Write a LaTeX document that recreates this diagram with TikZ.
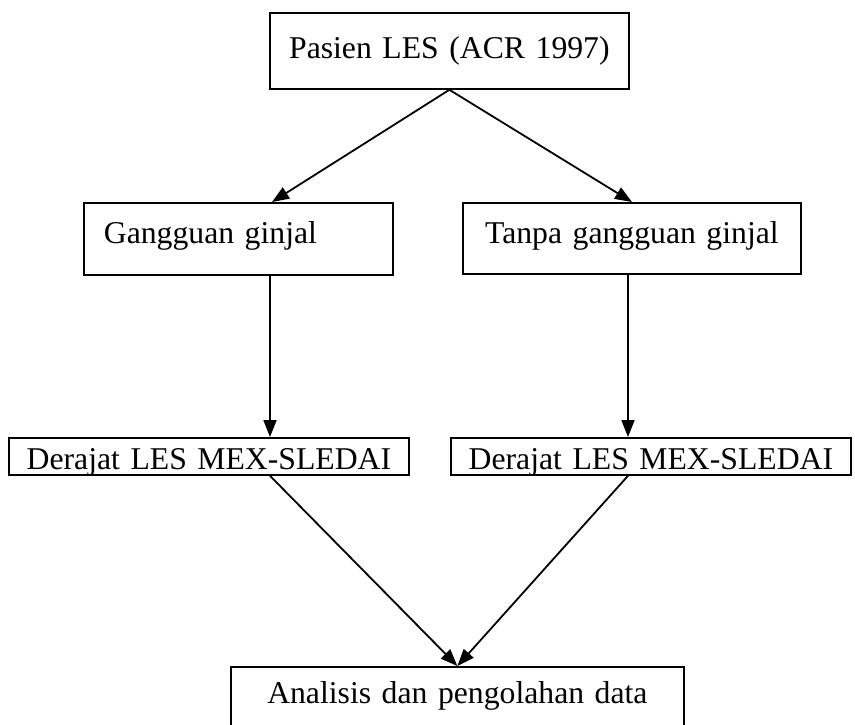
\documentclass[tikz,border=0pt]{standalone}
\usepackage{fontspec}
\setmainfont{Liberation Serif}
\usetikzlibrary{arrows.meta,calc}

\tikzset{
  box/.style={draw, line width=1.8pt, inner ysep=0pt, anchor=north west,
              font=\fontsize{31.7}{38}\selectfont},
  arr/.style={line width=1.8pt, -{Triangle[length=17pt,width=13pt]}}
}

\begin{document}
\begin{tikzpicture}[x=1pt,y=-1pt]
\useasboundingbox (0,0) rectangle (855,725);

% top box
\node[box, inner xsep=0pt, text width=359pt, align=center,
      text height=46pt, text depth=30pt] (top) at (269,12) {Pasien LES (ACR 1997)};

% second row
\node[box, inner xsep=20pt, text width=269pt, align=left,
      text height=41pt, text depth=31pt] (gl) at (83,202) {Gangguan ginjal};
\node[box, inner xsep=0pt, text width=338pt, align=center,
      text height=41pt, text depth=30pt] (gr) at (462,202) {Tanpa gangguan ginjal};

% third row
\node[box, inner xsep=0pt, text width=400pt, align=center,
      text height=32pt, text depth=5pt] (dl) at (8,437) {Derajat LES MEX-SLEDAI};
\node[box, inner xsep=0pt, text width=400pt, align=center,
      text height=32pt, text depth=5pt] (dr) at (450,437) {Derajat LES MEX-SLEDAI};

% bottom box
\node[box, inner xsep=0pt, text width=453pt, align=center,
      text height=37pt, text depth=57pt] (an) at (230,666) {Analisis dan pengolahan data};

% connectors
\coordinate (gla) at ($(gl.north west)+(189,0)$);
\coordinate (gra) at ($(gr.north west)+(170,0)$);
\draw[arr] (top.south) -- (gla);
\draw[arr] (top.south) -- (gra);

\coordinate (glb) at ($(gl.south west)+(187,0)$);
\coordinate (grb) at ($(gr.south west)+(166,0)$);
\draw[arr] (glb) -- (glb |- dl.north);
\draw[arr] (grb) -- (grb |- dr.north);

\draw[arr] (glb |- dl.south) -- (an.north);
\draw[arr] (grb |- dr.south) -- (an.north);
\end{tikzpicture}
\end{document}
